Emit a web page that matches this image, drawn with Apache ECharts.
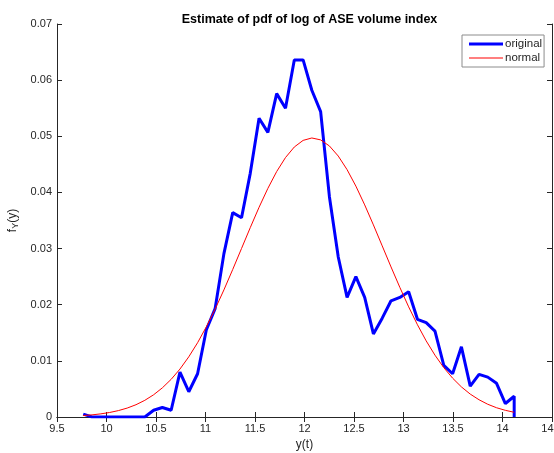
<!DOCTYPE html>
<html>
<head>
<meta charset="utf-8">
<script src="https://cdn.jsdelivr.net/npm/echarts@6/dist/echarts.min.js"></script>
<style>html,body{margin:0;padding:0;background:#fff}#c{width:554px;height:453px}</style>
</head>
<body>
<div id="c"></div>
<script>
var xValues = [9.765, 9.854, 9.943, 10.031, 10.12, 10.209, 10.298, 10.387, 10.476, 10.564,
  10.653, 10.742, 10.831, 10.92, 11.008, 11.097, 11.186, 11.275, 11.364, 11.452,
  11.541, 11.63, 11.719, 11.808, 11.897, 11.986, 12.074, 12.163, 12.252, 12.341,
  12.43, 12.519, 12.608, 12.696, 12.785, 12.874, 12.963, 13.052, 13.141, 13.229,
  13.318, 13.407, 13.496, 13.585, 13.674, 13.763, 13.851, 13.94, 14.029, 14.118, 14.118];
var originalValues = [0.0005, 0, 0, 0, 0, 0, 0, 0, 0.0012, 0.0017,
  0.0012, 0.0080, 0.0045, 0.0077, 0.0155, 0.0193, 0.0291, 0.0364, 0.0355, 0.0434,
  0.0532, 0.0507, 0.0576, 0.0550, 0.0636, 0.0636, 0.0582, 0.0544, 0.0392, 0.0285,
  0.0213, 0.0250, 0.0213, 0.0148, 0.0176, 0.0207, 0.0213, 0.0223, 0.0174, 0.0168,
  0.0153, 0.0092, 0.0077, 0.0125, 0.0055, 0.0076, 0.0071, 0.0060, 0.0024, 0.0037, 0];
var normalValues = [0.00026, 0.00038, 0.00056, 0.0008, 0.00114, 0.00159, 0.00219, 0.00297, 0.00396, 0.00519,
  0.00671, 0.00854, 0.01072, 0.01323, 0.01605, 0.01921, 0.02264, 0.02628, 0.03002, 0.03372,
  0.03735, 0.04072, 0.04372, 0.04621, 0.04809, 0.04927, 0.0497, 0.04936, 0.04827, 0.04648,
  0.04406, 0.04112, 0.03778, 0.03422, 0.03048, 0.02673, 0.02309, 0.01962, 0.01643, 0.01356,
  0.01101, 0.00879, 0.00692, 0.00536, 0.00408, 0.00307, 0.00227, 0.00165, 0.00119, 0.00084, 0.00084];
var seriesNames = ['original', 'normal'];
var titleText = 'Estimate of pdf of log of ASE volume index';

function pairs(xs, ys) { return xs.map(function (x, i) { return [x, ys[i]]; }); }

var axisColor = '#262626';
var font = 'Liberation Sans, Arial, Helvetica, sans-serif';
var chart = echarts.init(document.getElementById('c'), null, { renderer: 'canvas' });
chart.setOption({
  animation: false,
  backgroundColor: '#fff',
  title: {
    text: titleText, left: 304.5, textAlign: 'center', top: 8,
    textStyle: { fontFamily: font, fontSize: 12.5, fontWeight: 'bold', color: '#000' }
  },
  grid: { left: 57, right: 2, top: 24, bottom: 36, containLabel: false, outerBoundsMode: 'none' },
  legend: {
    data: [
      { name: seriesNames[0], icon: 'path://M0,0 L34,0 L34,3 L0,3 Z' },
      { name: seriesNames[1], icon: 'path://M0,0 L34,0 L34,1 L0,1 Z' }
    ],
    orient: 'vertical', left: 462, top: 35,
    padding: [3, 2, 3, 7], itemGap: 2, itemWidth: 34, itemHeight: 10, symbolKeepAspect: true,
    borderColor: '#8c8c8c', borderWidth: 1, backgroundColor: '#fff', borderRadius: 0,
    textStyle: { fontFamily: font, fontSize: 11.5, color: axisColor, lineHeight: 12, padding: [0, 0, 0, -3] }
  },
  xAxis: [{
    type: 'value', min: 9.5, max: 14.5, interval: 0.5, position: 'bottom',
    name: 'y(t)', nameLocation: 'middle', nameGap: 20,
    nameTextStyle: { fontFamily: font, fontSize: 12, color: axisColor },
    axisLine: { show: true, lineStyle: { color: axisColor, width: 1 } },
    axisTick: { show: true, inside: true, length: 5, lineStyle: { color: axisColor } },
    axisLabel: { fontFamily: font, fontSize: 11, color: axisColor, margin: 6 },
    splitLine: { show: false }
  }, {
    type: 'value', min: 9.5, max: 14.5, interval: 0.5, position: 'top',
    axisLine: { show: true, lineStyle: { color: axisColor, width: 1 } },
    axisTick: { show: true, inside: true, length: 5, lineStyle: { color: axisColor } },
    axisLabel: { show: false }, splitLine: { show: false }
  }],
  yAxis: [{
    type: 'value', min: 0, max: 0.07, interval: 0.01, position: 'left',
    name: '{a|f}{b|Y}{a|(y)}', nameLocation: 'middle', nameGap: 36, nameRotate: 90,
    nameTextStyle: { rich: {
      a: { fontFamily: font, fontSize: 12, color: axisColor },
      b: { fontFamily: font, fontSize: 9, color: axisColor, verticalAlign: 'bottom', padding: [6, 0, 0, 0] }
    } },
    axisLine: { show: true, lineStyle: { color: axisColor, width: 1 } },
    axisTick: { show: true, inside: true, length: 5, lineStyle: { color: axisColor } },
    axisLabel: { fontFamily: font, fontSize: 11, color: axisColor, margin: 5 },
    splitLine: { show: false }
  }, {
    type: 'value', min: 0, max: 0.07, interval: 0.01, position: 'right',
    axisLine: { show: true, lineStyle: { color: axisColor, width: 1 } },
    axisTick: { show: true, inside: true, length: 5, lineStyle: { color: axisColor } },
    axisLabel: { show: false }, splitLine: { show: false }
  }],
  series: [{
    name: seriesNames[0], type: 'line', data: pairs(xValues, originalValues),
    symbol: 'none', showSymbol: false, color: '#0000ff',
    lineStyle: { color: '#0000ff', width: 3 }, z: 3
  }, {
    name: seriesNames[1], type: 'line', data: pairs(xValues, normalValues),
    symbol: 'none', showSymbol: false, smooth: false, color: '#ff0000',
    lineStyle: { color: '#ff0000', width: 1 }, z: 4
  }]
});
</script>
</body>
</html>
